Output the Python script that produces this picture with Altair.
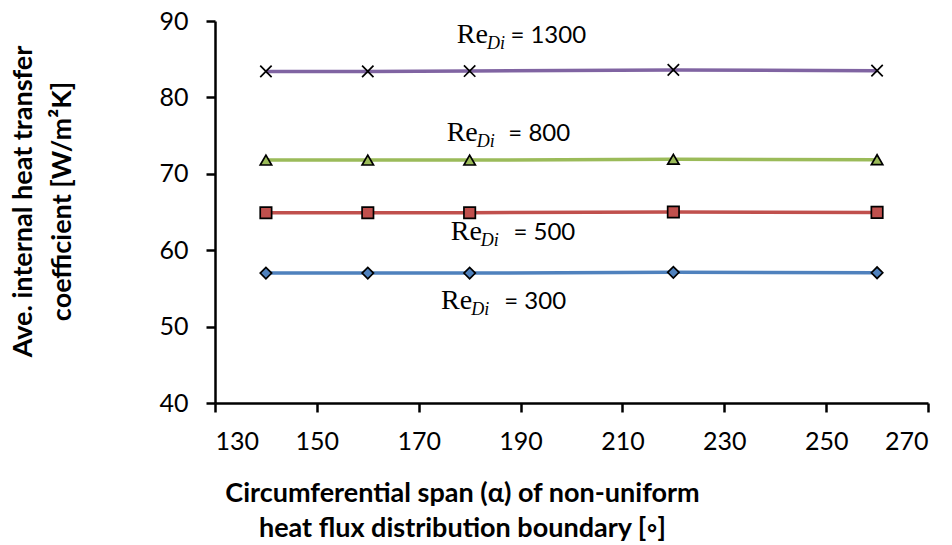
import altair as alt
import pandas as pd

# ---- data ----
alpha = [140, 160, 180, 220, 260]
series = ["1300", "800", "500", "300"]
h_1300 = [83.4, 83.4, 83.45, 83.6, 83.5]
h_800 = [71.8, 71.8, 71.8, 71.9, 71.85]
h_500 = [64.9, 64.9, 64.9, 65.0, 64.95]
h_300 = [57.0, 57.0, 57.0, 57.1, 57.05]

line_colors = ["#8064A2", "#9BBB59", "#C0504D", "#4F81BD"]
shapes = ["M-1,-1L1,1M-1,1L1,-1", "triangle-up", "square", "diamond"]

# label annotations (data coordinates)
label_re_x = [183.6, 181.6, 182.4, 180.5]
label_y = [87.08, 74.33, 61.35, 52.3]
label_eq_x = [188.0, 187.6, 188.6, 186.8]
label_eq_text = ["= 1300", "= 800", "= 500", "= 300"]

x_ticks = [130, 150, 170, 190, 210, 230, 250, 270]
y_ticks = [40, 50, 60, 70, 80, 90]

rows = []
for s, vals in zip(series, [h_1300, h_800, h_500, h_300]):
    for a, v in zip(alpha, vals):
        rows.append({"series": s, "alpha": a, "h": v})
df = pd.DataFrame(rows)

lab = pd.DataFrame({
    "series": series,
    "re_x": label_re_x,
    "y": label_y,
    "eq_x": label_eq_x,
    "eq": label_eq_text,
})

FONT = "Lato"

xscale = alt.Scale(domain=[130, 270], nice=False, zero=False)
yscale = alt.Scale(domain=[40, 90], nice=False, zero=False)

x_enc = alt.X(
    "alpha:Q", scale=xscale,
    axis=alt.Axis(
        values=x_ticks,
        title=["Circumferential span (α) of non-uniform",
               "heat flux distribution boundary [◦]"],
        titleX=247, titleY=90, titleAlign="center", titleBaseline="middle",
        titleLineHeight=35,
    ),
)
y_enc = alt.Y(
    "h:Q", scale=yscale,
    axis=alt.Axis(
        values=y_ticks,
        title=["Ave. internal heat transfer", "coefficient [W/m²K]"],
        titleX=-192, titleY=180, titleAngle=270, titleAlign="center",
        titleBaseline="middle", titleLineHeight=39,
    ),
)

color_scale = alt.Scale(domain=series, range=line_colors)
shape_scale = alt.Scale(domain=series, range=shapes)

lines = alt.Chart(df).mark_line(strokeWidth=3.5).encode(
    x=x_enc, y=y_enc,
    color=alt.Color("series:N", scale=color_scale, legend=None),
    detail="series:N",
)

points = alt.Chart(df).mark_point(
    filled=True, size=130, stroke="black", strokeWidth=1.7, opacity=1
).encode(
    x="alpha:Q", y="h:Q",
    shape=alt.Shape("series:N", scale=shape_scale, legend=None),
    fill=alt.Fill("series:N", scale=color_scale, legend=None),
)

re_text = alt.Chart(lab).mark_text(
    text="Re", font="Liberation Serif", fontSize=28, align="right",
    baseline="alphabetic", color="black"
).encode(x="re_x:Q", y="y:Q")

di_text = alt.Chart(lab).mark_text(
    text="Di", font="Liberation Serif", fontSize=18, fontStyle="italic",
    align="left", baseline="alphabetic", dx=-1, dy=6, color="black"
).encode(x="re_x:Q", y="y:Q")

eq_text = alt.Chart(lab).mark_text(
    font=FONT, fontSize=24, align="left", baseline="alphabetic", color="black"
).encode(x="eq_x:Q", y="y:Q", text="eq:N")

chart = alt.layer(lines, points, re_text, di_text, eq_text).properties(
    width=713, height=382,
    autosize=alt.AutoSizeParams(type="none"),
    padding={"left": 215, "top": 21, "right": 24, "bottom": 142},
).configure_view(stroke=None).configure_axis(
    grid=False,
    domainColor="black", domainWidth=2.5,
    tickColor="black", tickWidth=2.5, tickSize=9,
    labelFont=FONT, labelFontSize=25, labelColor="black", labelPadding=17,
    titleFont=FONT, titleFontSize=27, titleFontWeight="bold", titleColor="black",
).configure_axisY(labelPadding=18)

chart.save("out.html", embed_options={"renderer": "svg", "actions": False})
